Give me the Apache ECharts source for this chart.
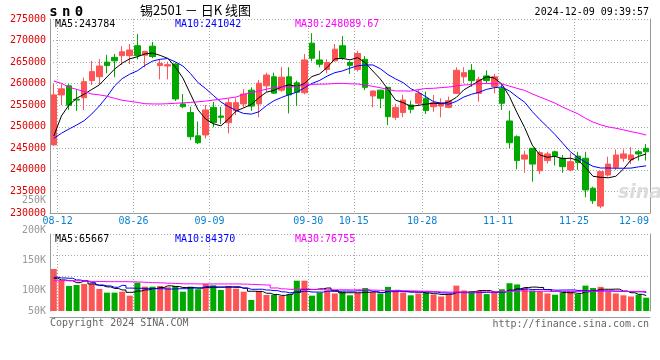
<!DOCTYPE html>
<html><head><meta charset="utf-8">
<script src="https://cdn.jsdelivr.net/npm/echarts@6/dist/echarts.min.js"></script>
<style>html,body{margin:0;padding:0;background:#fff}#c{width:660px;height:360px}</style>
</head><body><div id="c"></div>
<script>
const dates = ['08-12','08-13','08-14','08-15','08-16','08-19','08-20','08-21','08-22','08-23',
'08-26','08-27','08-28','08-29','08-30','09-02','09-03','09-04','09-05','09-06',
'09-09','09-10','09-11','09-12','09-13','09-18','09-19','09-20','09-23','09-24',
'09-25','09-26','09-27','09-30','10-08','10-09','10-10','10-11','10-14','10-15',
'10-16','10-17','10-18','10-21','10-22','10-23','10-24','10-25','10-28','10-29',
'10-30','10-31','11-01','11-04','11-05','11-06','11-07','11-08','11-11','11-12',
'11-13','11-14','11-15','11-18','11-19','11-20','11-21','11-22','11-25','11-26',
'11-27','11-28','11-29','12-02','12-03','12-04','12-05','12-06','12-09'];
const opens = [245800,257400,259500,256400,256750,260700,261600,265000,266100,266500,
266500,268800,266600,268700,264200,264100,264560,255300,253300,247900,
248100,254500,252500,250950,253700,255300,258500,255300,259500,261600,
258500,261600,260200,257900,269400,265500,263300,265300,268800,264900,
263300,265650,257150,258500,259150,252200,253300,255050,255450,256600,
254650,254800,254500,257750,261600,263100,257750,261800,259300,258900,
251350,247700,242500,245000,239800,242150,244200,242700,240000,243200,
242700,235750,231600,238800,240600,242700,242300,244200,245000];
const closes = [257400,258800,255000,256200,260460,262800,264100,264200,265300,267400,
267800,266500,267500,266300,264700,264400,256450,254650,247700,246300,
253900,250950,252200,255600,255600,257600,254800,260100,262000,257800,
261500,257400,258000,265500,265900,264500,264900,268000,266000,264250,
267000,259150,258300,256600,252350,254500,256200,254050,257750,253750,
255600,255600,256050,263100,262550,260700,261000,260700,261600,255450,
246300,242150,243450,241350,244000,243700,243200,240750,241900,241700,
235350,232850,239600,241350,243450,243700,243450,243700,244200];
const lows = [245600,255000,253900,253700,253900,259700,259850,262400,261500,264300,
264560,265650,263800,265900,261000,261000,256000,254300,246900,246000,
247300,249900,250640,248500,252700,254500,253700,252200,258100,257600,
258100,253100,254800,257500,265200,263800,262400,265100,265500,262240,
262800,258500,254500,254300,250400,251600,252200,253130,254800,252950,
253500,252200,254300,257600,260100,259300,255800,260100,257750,253900,
245000,240150,239350,237250,239050,241500,241000,239350,239700,240000,
233650,232100,231100,238450,240000,241900,241350,242150,242150];
const highs = [260000,260000,259900,258700,261400,265300,265700,266700,266900,268700,
269200,271500,267600,269700,265650,265100,264900,257600,254650,251200,
255050,255800,254650,256600,256600,258700,259150,260850,262550,262550,
263800,263800,260700,266900,271700,267650,265650,269200,271050,265330,
267650,266400,258400,258600,259200,255300,257400,256050,258700,258150,
257350,256600,257000,263800,263800,264550,261600,263100,262250,260100,
253750,248000,244450,245000,244450,244200,244450,243450,243850,244200,
244200,236100,239600,243050,244750,244750,245250,244600,246000];
const volumes = [135600,116200,107500,109100,110800,110800,102500,96400,96400,98000,
91400,112900,106300,106300,107500,105300,107500,98000,106300,102000,
110800,108600,100800,107500,103000,98000,84300,99200,92500,92500,
90900,93000,116200,116200,91400,96400,100000,95000,98000,92000,
96000,104000,97000,95000,106000,99000,96000,92000,95000,97000,
93000,90000,94000,108000,100000,98000,99000,94000,96000,102000,
112000,110000,104000,100000,99000,95000,93000,96000,98000,94000,
108000,104000,106000,98000,95000,92000,90000,93000,88000];
// moving-average values before enough history is visible
const ma5Head = [247860,252500,255050,256600];
const ma10Head = [247320,248490,249480,250410,251410,252970,254820,256980,259460];
const ma30Head = [260620,260080,259150,258700,258140,257600,257400,257100,256600,256150,
255900,255650,255350,255300,255280,255350,255450,255550,255650,255800,
255950,256200,256400,256650,256900,257500,257900,258300,258700];
const vma5Head = [120200,117400,116200,112900];
const vma10Head = [121900,120700,120200,117400,115700,112900,109100,107500,105300];
const vma30Head = [116200,116200,116200,116000,115500,115000,114800,114600,114600,114600,
114400,114000,113500,113000,112500,112000,111500,111000,111000,110800,
110800,110800,110800,110800,110800,110500,110000,109500,109000];
const tickLabels = ['08-12','08-26','09-09','09-30','10-15','10-28','11-11','11-25','12-09'];
const volTickLabels = [50000,100000,150000,200000,250000];
const symbolText = 'sn0';
const titleText = '锡2501 － 日K 线图';
const timeText = '2024-12-09 09:39:57';
const priceMaText = ['MA5:243784','MA10:241042','MA30:248089.67'];
const volMaText = ['MA5:65667','MA10:84370','MA30:76755'];
const footLeft = 'Copyright 2024 SINA.COM';
const footRight = 'http://finance.sina.com.cn';

function movingAvg(vals, n, head) {
  return vals.map((v, i) => {
    if (i < n - 1) return head[i];
    let s = 0;
    for (let k = i - n + 1; k <= i; k++) s += vals[k];
    return +(s / n).toFixed(2);
  });
}
const RED = '#ff5454', GREEN = '#00a800';
const MONO = '"DejaVu Sans Mono", "Liberation Mono", monospace';
const labelIdx = tickLabels.map(t => dates.indexOf(t));
const splitIdx = labelIdx.map(i => i + 1);
const lastIdx = dates.length - 1;

const catAxisBase = (gridIndex, showLabels) => ({
  type: 'category', gridIndex, data: dates, boundaryGap: true,
  axisLine: {show: true, lineStyle: {color: '#999', width: 1}},
  axisTick: {show: false},
  splitLine: {show: true, interval: (i) => splitIdx.includes(i),
    lineStyle: {color: '#aaa', type: [1, 2], width: 1}},
  axisLabel: showLabels ? {
    show: true, interval: (i) => labelIdx.includes(i), margin: 3,
    color: '#0a80d0', fontFamily: MONO, fontSize: 10, padding: [0, 0, 0, 7.6],
    formatter: (v, i) => i === lastIdx ? '{e|' + v + '}' : v,
    rich: {e: {padding: [0, 32, 0, 0], color: '#0a80d0', fontFamily: MONO, fontSize: 10}}
  } : {show: false}
});

const t = (text, left, top, color, size, extra) => Object.assign({
  text, left, top, padding: 0,
  textStyle: Object.assign({color, fontSize: size, fontFamily: MONO, fontWeight: 'normal', lineHeight: size + 2}, extra || {})
});

const option = {
  animation: false,
  backgroundColor: '#fff',
  title: [
    {text: symbolText.split('').map(ch => '{s|' + ch + '}').join(''), left: 47, top: 5, padding: 0,
     textStyle: {rich: {s: {fontFamily: MONO, fontWeight: 'bold', fontSize: 14, color: '#000', padding: [0, 2.2, 0, 2.2]}}}},
    {text: titleText, left: 140, top: 4, padding: 0,
     textStyle: {fontFamily: '"Noto Sans CJK SC", sans-serif', fontSize: 13, color: '#000', fontWeight: 'normal'}},
    t(timeText, null, 6, '#000', 10, {}),
    t(priceMaText[0], 55, 18, '#000', 10),
    t(priceMaText[1], 175, 18, '#0000ff', 10),
    t(priceMaText[2], 295, 18, '#ff00ff', 10),
    t(volMaText[0], 55, 233, '#000', 10),
    t(volMaText[1], 175, 233, '#0000ff', 10),
    t(volMaText[2], 295, 233, '#ff00ff', 10),
    t(footLeft, 50, 317, '#666', 10),
    t(footRight, null, 318, '#666', 10),
    {text: 'sina', left: 618, top: 184, padding: 0,
     textStyle: {fontFamily: 'Verdana, "DejaVu Sans", sans-serif', fontStyle: 'italic', fontWeight: 'bold', fontSize: 19, color: '#dcdcdc'}}
  ],
  grid: [
    {left: 50, width: 600, top: 19, height: 194},
    {left: 50, width: 600, top: 234, height: 77},
    {left: 50, width: 600, top: 200, height: 120.5},
    {left: 50, width: 600, top: 234.3, height: 41.5}
  ],
  xAxis: [
    catAxisBase(0, true),
    Object.assign(catAxisBase(1, false), {offset: 6}),
    {type: 'value', gridIndex: 2, show: false},
    {type: 'value', gridIndex: 3, show: false}
  ],
  yAxis: [
    {type: 'value', gridIndex: 0, min: 230000, max: 275000, interval: 5000,
     axisLine: {show: true, lineStyle: {color: '#999'}}, axisTick: {show: false},
     splitLine: {show: true, lineStyle: {color: '#aaa', type: [1, 2]}},
     axisLabel: {color: '#e00000', fontFamily: MONO, fontSize: 10, margin: 4, padding: [0, 0, 6, 0],
                 formatter: v => String(v)}},
    {type: 'value', gridIndex: 0, position: 'right', min: 230000, max: 275000,
     axisLine: {show: true, lineStyle: {color: '#999'}}, axisTick: {show: false},
     axisLabel: {show: false}, splitLine: {show: false}},
    {type: 'value', gridIndex: 1, min: 66000, max: 193500,
     axisLine: {show: true, lineStyle: {color: '#999'}}, axisTick: {show: false},
     axisLabel: {show: false}, splitLine: {show: false}},
    {type: 'value', gridIndex: 1, position: 'right', min: 66000, max: 193500,
     axisLine: {show: true, lineStyle: {color: '#999'}}, axisTick: {show: false},
     axisLabel: {show: false}, splitLine: {show: false}},
    {type: 'value', gridIndex: 2, min: volTickLabels[0], max: volTickLabels[volTickLabels.length - 1], interval: 50000,
     axisLine: {show: false}, axisTick: {show: false}, splitLine: {show: false},
     axisLabel: {color: '#999', fontFamily: MONO, fontSize: 10, margin: 4,
                 formatter: v => v === volTickLabels[0] ? '{m|' + (v / 1000) + 'K}' : (v / 1000) + 'K',
                 rich: {m: {color: '#999', fontFamily: MONO, fontSize: 10, padding: [0, 0, 19, 0]}}}},
    {type: 'value', gridIndex: 3, min: 0, max: 2, interval: 1,
     axisLine: {show: false}, axisTick: {show: false}, axisLabel: {show: false},
     splitLine: {show: true, lineStyle: {color: '#aaa', type: [1, 2]}}}
  ],
  series: [
    {type: 'candlestick', xAxisIndex: 0, yAxisIndex: 0, barWidth: 6,
     data: dates.map((d, i) => [opens[i], closes[i], lows[i], highs[i]]),
     itemStyle: {color: RED, color0: GREEN, borderColor: RED, borderColor0: GREEN, borderWidth: 1}},
    {type: 'line', xAxisIndex: 0, yAxisIndex: 0, data: movingAvg(closes, 5, ma5Head), symbol: 'none',
     lineStyle: {color: '#000', width: 1}},
    {type: 'line', xAxisIndex: 0, yAxisIndex: 0, data: movingAvg(closes, 10, ma10Head), symbol: 'none',
     lineStyle: {color: '#0000ff', width: 1}},
    {type: 'line', xAxisIndex: 0, yAxisIndex: 0, data: movingAvg(closes, 30, ma30Head), symbol: 'none',
     lineStyle: {color: '#ff00ff', width: 1}},
    {type: 'bar', xAxisIndex: 1, yAxisIndex: 2, barWidth: 6,
     data: volumes.map((v, i) => ({value: v, itemStyle: {color: closes[i] >= opens[i] ? RED : GREEN}}))},
    {type: 'line', xAxisIndex: 1, yAxisIndex: 2, step: 'middle', data: movingAvg(volumes, 5, vma5Head), symbol: 'none',
     lineStyle: {color: '#000', width: 1}},
    {type: 'line', xAxisIndex: 1, yAxisIndex: 2, step: 'middle', data: movingAvg(volumes, 10, vma10Head), symbol: 'none',
     lineStyle: {color: '#0000ff', width: 1}},
    {type: 'line', xAxisIndex: 1, yAxisIndex: 2, step: 'middle', data: movingAvg(volumes, 30, vma30Head), symbol: 'none',
     lineStyle: {color: '#ff00ff', width: 1}}
  ]
};
option.title[2].right = 11; delete option.title[2].left;
option.title[10].right = 11; delete option.title[10].left;
const chart = echarts.init(document.getElementById('c'), null, {renderer: 'canvas'});
chart.setOption(option);
</script></body></html>
